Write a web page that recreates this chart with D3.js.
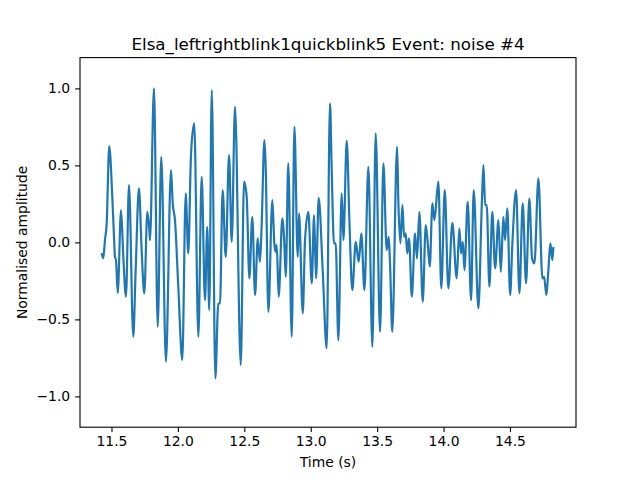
<!DOCTYPE html>
<html>
<head>
<meta charset="utf-8">
<script src="https://cdn.jsdelivr.net/npm/d3@7"></script>
<style>
  body { margin: 0; background: #fff; }
  svg { font-family: "DejaVu Sans", sans-serif; }
</style>
</head>
<body>
<svg id="chart" width="640" height="480"></svg>
<script>
// signal (turning points)
var times = [11.426, 11.438, 11.451, 11.464, 11.483, 11.506, 11.519, 11.526, 11.534, 11.547,
  11.572, 11.589, 11.609, 11.632, 11.664, 11.682, 11.707, 11.727, 11.747, 11.770,
  11.785, 11.790, 11.820, 11.848, 11.875, 11.910, 11.948, 11.961, 11.978, 12.003,
  12.033, 12.059, 12.078, 12.099, 12.123, 12.154, 12.179, 12.204, 12.221, 12.236,
  12.255, 12.282, 12.304, 12.317, 12.337, 12.360, 12.385, 12.405, 12.430, 12.473,
  12.498, 12.518, 12.538, 12.560, 12.581, 12.601, 12.618, 12.631, 12.651, 12.661,
  12.681, 12.711, 12.726, 12.736, 12.744, 12.759, 12.786, 12.801, 12.812, 12.831,
  12.857, 12.877, 12.902, 12.912, 12.940, 12.957, 12.982, 13.008, 13.025, 13.040,
  13.060, 13.090, 13.120, 13.145, 13.158, 13.175, 13.188, 13.208, 13.233, 13.246,
  13.271, 13.291, 13.313, 13.339, 13.361, 13.381, 13.404, 13.434, 13.464, 13.489,
  13.522, 13.547, 13.572, 13.587, 13.597, 13.614, 13.650, 13.660, 13.675, 13.690,
  13.703, 13.715, 13.727, 13.740, 13.761, 13.785, 13.800, 13.818, 13.843, 13.866,
  13.881, 13.896, 13.916, 13.931, 13.961, 13.983, 14.009, 14.036, 14.066, 14.099,
  14.119, 14.132, 14.145, 14.157, 14.182, 14.207, 14.227, 14.262, 14.288, 14.300,
  14.313, 14.325, 14.345, 14.367, 14.388, 14.413, 14.431, 14.450, 14.463, 14.480,
  14.501, 14.518, 14.546, 14.571, 14.596, 14.621, 14.646, 14.666, 14.684, 14.714,
  14.744, 14.757, 14.774, 14.789, 14.804, 14.819, 14.827];

var amplitude = [-0.071, -0.102, 0.015, 0.125, 0.625, 0.296, 0.036, -0.094, -0.115, -0.328,
  0.210, -0.094, -0.353, 0.372, -0.613, -0.180, 0.351, -0.050, -0.331, 0.199,
  0.080, 0.015, 1.000, -0.548, 0.556, -0.775, 0.469, 0.255, 0.145, -0.288,
  -0.764, 0.318, -0.071, 0.578, 0.773, -0.613, 0.426, -0.375, 0.101, -0.440,
  0.989, -0.883, -0.396, -0.396, 0.340, -0.094, 0.567, 0.004, 0.881, -0.797,
  0.394, 0.296, -0.234, 0.166, -0.342, 0.026, -0.126, 0.123, 0.664, 0.491,
  -0.451, 0.275, -0.006, -0.061, -0.018, -0.353, 0.156, -0.006, -0.223, 0.513,
  -0.613, 0.751, -0.094, 0.188, -0.461, 0.015, 0.199, -0.266, 0.177, -0.234,
  0.290, -0.180, -0.688, 0.903, 0.469, -0.006, -0.006, -0.634, 0.318, 0.015,
  0.660, 0.145, -0.310, 0.004, -0.126, 0.058, -0.310, 0.491, -0.678, 0.708,
  -0.581, 0.513, -0.050, 0.036, -0.136, -0.581, 0.621, 0.253, -0.006, 0.242,
  0.036, 0.058, -0.071, 0.026, -0.353, 0.058, -0.104, 0.199, -0.386, 0.112,
  -0.006, -0.158, 0.253, 0.145, 0.394, -0.299, 0.340, -0.299, 0.127, -0.234,
  0.091, -0.071, 0.004, -0.180, 0.264, -0.375, 0.340, -0.429, 0.253, 0.502,
  0.242, 0.242, -0.288, 0.199, -0.169, 0.145, -0.191, 0.166, 0.015, 0.221,
  -0.342, -0.006, 0.340, -0.331, 0.253, -0.266, 0.286, -0.104, -0.136, 0.416,
  -0.234, -0.223, -0.342, -0.180, -0.006, -0.115, -0.029];

var xTicks = [11.5, 12.0, 12.5, 13.0, 13.5, 14.0, 14.5];
var yTicks = [-1.0, -0.5, 0.0, 0.5, 1.0];
var xLimits = [11.263, 14.997];
var yLimits = [-1.2, 1.2];

var titleText = "Elsa_leftrightblink1quickblink5 Event: noise #4";
var xLabel = "Time (s)";
var yLabel = "Normalised amplitude";

var svg = d3.select("#chart");
// plot area (matplotlib default subplot box)
var plotLeft = 80, plotRight = 576, plotTop = 57.6, plotBottom = 427.2;

var x = d3.scaleLinear().domain(xLimits).range([plotLeft, plotRight]);
var y = d3.scaleLinear().domain(yLimits).range([plotBottom, plotTop]);

var points = times.map(function(t, i) { return [t, amplitude[i]]; });

// the signal
var line = d3.line()
    .x(function(d) { return x(d[0]); })
    .y(function(d) { return y(d[1]); })
    .curve(d3.curveMonotoneX);

svg.append("path")
    .datum(points)
    .attr("fill", "none")
    .attr("stroke", "#1f77b4")
    .attr("stroke-width", 2.2)
    .attr("stroke-linejoin", "round")
    .attr("d", line);

// axes
var xAxis = svg.append("g")
    .attr("transform", "translate(0," + plotBottom + ")")
    .call(d3.axisBottom(x).tickValues(xTicks).tickFormat(d3.format(".1f"))
        .tickSize(4.9).tickPadding(4.2).tickSizeOuter(0));

var yAxis = svg.append("g")
    .attr("transform", "translate(" + plotLeft + ",0)")
    .call(d3.axisLeft(y).tickValues(yTicks).tickFormat(d3.format(".1f"))
        .tickSize(4.9).tickPadding(4.9).tickSizeOuter(0));

[xAxis, yAxis].forEach(function(g) {
    g.select(".domain").remove();
    g.selectAll(".tick line").attr("stroke", "#000").attr("stroke-width", 1.1);
    g.selectAll(".tick text")
        .attr("fill", "#000")
        .style("font-family", "DejaVu Sans")
        .style("font-size", "13.9px");
});

// frame
svg.append("rect")
    .attr("x", plotLeft).attr("y", plotTop)
    .attr("width", plotRight - plotLeft).attr("height", plotBottom - plotTop)
    .attr("fill", "none")
    .attr("stroke", "#000")
    .attr("stroke-width", 1.1);

// texts
svg.append("text")
    .attr("x", (plotLeft + plotRight) / 2).attr("y", 49.5)
    .attr("text-anchor", "middle")
    .style("font-size", "16.7px")
    .text(titleText);

svg.append("text")
    .attr("x", (plotLeft + plotRight) / 2).attr("y", 467)
    .attr("text-anchor", "middle")
    .style("font-size", "13.9px")
    .text(xLabel);

svg.append("text")
    .attr("transform", "translate(27," + (plotTop + plotBottom) / 2 + ") rotate(-90)")
    .attr("text-anchor", "middle")
    .style("font-size", "13.9px")
    .text(yLabel);
</script>
</body>
</html>
